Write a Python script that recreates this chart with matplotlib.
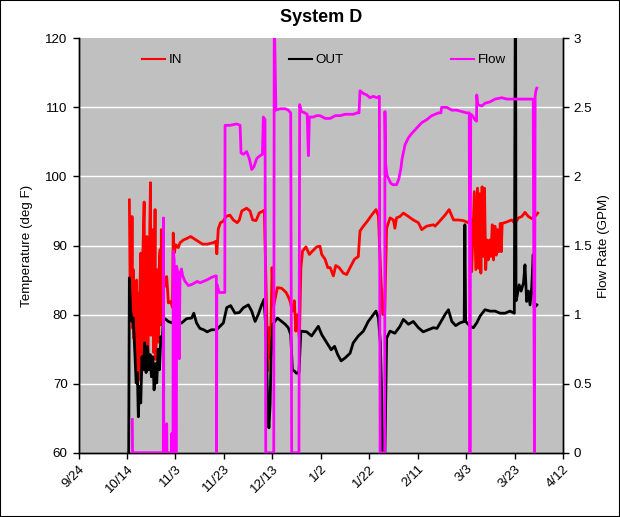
import matplotlib
matplotlib.use("Agg")
import matplotlib.pyplot as plt
from matplotlib.patches import Rectangle
from matplotlib.lines import Line2D
from matplotlib.transforms import ScaledTranslation

plt.rcParams['font.family'] = ['Liberation Sans', 'DejaVu Sans']

# ---------------- data (x = days since 9/24) ----------------
tick_days = [0, 20, 40, 60, 80, 100, 120, 140, 160, 180, 200]
tick_labels = ['9/24', '10/14', '11/3', '11/23', '12/13', '1/2', '1/22', '2/11', '3/3', '3/23', '4/12']
temp_ticks = [60, 70, 80, 90, 100, 110, 120]
flow_ticks = [0, 0.5, 1, 1.5, 2, 2.5, 3]
flow_tick_labels = ['0', '0.5', '1', '1.5', '2', '2.5', '3']

in_day = [21.0, 21.3, 21.5, 21.8, 22.1, 22.4, 22.6, 22.9, 23.2, 23.5, 23.8, 24.0, 24.3, 24.5,
          24.7, 24.9, 25.1, 25.4, 25.7, 26.0, 26.2, 26.5, 26.8, 27.1, 27.4, 27.6, 27.9, 28.2,
          28.5, 28.7, 29.0, 29.3, 29.7, 29.9, 30.1, 30.4, 30.7, 31.0, 31.2, 31.6, 31.8, 32.0,
          32.3, 32.6, 32.9, 33.1, 33.4, 33.7, 34.0, 34.2, 34.4, 34.6, 34.9,
          35.1, 35.7, 36.4, 37.1, 38.1, 38.8, 39.1, 39.5, 40.2, 41.2, 41.9, 43.3, 44.6, 46.3,
          47.6, 49.4, 51.2, 53.1, 55.6, 56.7, 57.1, 57.7, 58.6, 59.7, 60.9, 62.5, 63.9, 65.5,
          66.4, 67.4, 69.4, 70.8, 71.9, 73.3, 74.6, 76.7, 77.7, 78.1, 78.6, 79.2, 79.9, 80.6,
          82.1, 83.9, 85.7, 87.1, 88.4, 89.1, 89.7, 90.4, 91.2, 91.8, 92.5, 93.9, 95.3, 96.6,
          98.3, 99.7, 100.4, 101.8, 102.9, 103.9, 105.2, 106.2, 107.6, 109.3, 110.7, 112.1,
          113.9, 115.5, 116.2, 117.6, 119.4, 121.0, 122.8, 123.8, 124.8, 125.6, 126.4, 127.2,
          128.6, 130.0, 130.6, 131.3, 132.7, 134.1, 136.2, 138.2, 140.3, 141.7, 143.7, 146.5,
          147.2, 149.3, 151.3, 153.0, 154.8, 156.8, 158.9, 160.9, 161.9, 162.3, 163.0, 163.4,
          164.0, 164.7, 165.2, 165.6, 166.1, 166.6, 167.2, 167.6, 168.1, 168.6, 169.1, 169.7, 170.2,
          170.8, 171.3, 171.9, 172.4, 173.0, 173.5, 174.1, 174.5, 174.9, 176.7, 178.8, 180.2,
          181.6, 183.0, 184.3, 185.7, 187.1, 188.4, 189.6]
in_temp = [96.6, 84.0, 87.0, 80.5, 94.2, 78.0, 86.5, 76.5, 80.7, 74.0, 75.9, 85.0, 71.6, 79.5,
           83.1, 70.5, 72.1, 84.5, 88.9, 72.5, 73.9, 88.0, 92.3, 96.3, 74.0, 75.0, 87.5, 91.3,
           72.5, 73.0, 86.0, 89.4, 99.1, 77.0, 80.2, 90.5, 92.3, 74.5, 75.9, 95.2, 73.5, 74.5,
           84.0, 86.5, 76.0, 77.4, 88.0, 89.4, 78.5, 92.3, 82.0, 79.7, 86.0,
           85.1, 84.1, 85.5, 81.7, 81.9, 81.0, 91.8, 88.9, 90.1, 89.7, 90.4, 90.8, 91.0, 91.3,
           91.0, 90.6, 90.2, 90.2, 90.4, 90.6, 88.8, 92.4, 93.3, 93.5, 94.2, 94.4, 93.7, 93.3,
           93.7, 95.0, 95.4, 95.0, 93.7, 93.6, 94.7, 95.1, 80.0, 71.9, 78.1, 73.7, 86.8, 81.3,
           83.9, 83.8, 83.2, 82.2, 80.5, 82.0, 77.6, 80.0, 76.4, 86.8, 89.2, 89.8, 88.7, 89.2,
           89.8, 89.9, 88.7, 88.0, 86.8, 86.8, 85.6, 87.1, 86.8, 86.0, 85.8, 86.8,
           88.0, 88.4, 92.1, 92.8, 93.6, 94.4, 95.2, 94.3, 85.5, 80.0, 80.5, 92.5,
           94.0, 93.7, 92.5, 94.0, 94.2, 94.7, 94.2, 93.7, 93.3, 92.3, 92.8, 93.0,
           92.8, 93.6, 94.4, 95.2, 93.7, 93.7, 93.6, 93.3, 93.9, 86.2, 93.7, 97.8,
           86.5, 98.3, 86.7, 97.5, 86.0, 98.5, 88.4, 98.3, 86.5, 90.8, 87.9, 90.8, 88.4,
           93.0, 87.9, 92.8, 88.6, 92.3, 89.1, 93.2, 89.1, 93.2, 93.4, 93.7, 93.2,
           94.0, 94.2, 94.8, 94.2, 93.9, 94.2, 94.7]

out_day = [20.7, 21.0, 21.5, 22.1, 22.6, 23.2, 23.8, 24.3, 24.7, 25.1, 25.7, 26.2, 26.8, 27.3,
           27.9, 28.5, 29.0, 29.6, 30.1, 30.7, 31.2, 31.8, 32.3, 32.9, 33.4, 34.0, 34.5, 35.0,
           35.7, 37.1, 38.5, 39.8, 41.2, 42.6, 44.6, 46.7, 47.6, 48.7, 50.1, 51.7, 53.1, 54.9,
           57.0, 58.4, 59.8, 61.2, 62.8, 64.6, 66.4, 68.1, 70.1, 71.5, 72.9, 74.2, 75.6, 76.6,
           77.4, 77.8, 78.2, 78.6, 79.1, 79.5, 80.2, 82.1, 83.9, 85.3, 86.6, 87.6, 88.3, 89.2,
           90.0, 91.0, 91.8, 94.2, 96.2, 97.6, 99.0, 100.4, 102.5, 104.3, 105.7, 107.0, 108.4,
           110.0, 112.1, 113.4, 115.5, 117.6, 119.6, 121.7, 122.8, 123.8, 124.6, 125.3, 125.6,
           126.4, 127.2, 128.6, 130.6, 132.7, 134.1, 136.2, 138.2, 140.3, 142.3, 144.4, 146.5,
           148.0, 149.3, 151.3, 152.7, 154.1, 155.7, 157.5, 159.2, 159.5, 159.8, 161.7, 163.0,
           164.4, 165.8, 167.8, 169.9, 172.0, 174.0, 176.1, 178.1, 179.9, 180.4, 180.6, 180.9,
           181.9, 182.7, 183.7, 184.3, 185.0, 185.7, 186.4, 187.1, 187.7, 188.1, 189.2]
out_temp = [58.0, 85.3, 80.7, 79.0, 79.5, 75.0, 70.1, 71.6, 65.2, 69.6, 67.2, 73.9, 72.0, 75.9,
            71.6, 75.4, 72.0, 74.2, 71.0, 73.9, 69.1, 72.9, 70.1, 75.0, 72.0, 76.8, 75.9, 79.2,
            79.4, 79.0, 78.8, 79.2, 78.6, 78.8, 79.4, 79.5, 80.2, 78.8, 78.0, 77.8, 77.5, 77.8,
            77.8, 78.3, 78.8, 81.0, 81.3, 80.2, 80.3, 81.0, 81.4, 80.5, 79.0, 80.0, 81.4, 82.2,
            77.6, 71.3, 66.1, 63.6, 67.0, 73.7, 78.6, 79.5, 79.0, 78.6, 78.1, 77.1, 72.0, 71.8,
            71.5, 71.6, 77.6, 77.5, 76.9, 77.6, 78.3, 77.1, 75.9, 74.9, 75.4, 74.2, 73.3,
            73.7, 74.4, 75.9, 76.9, 77.6, 79.0, 80.0, 80.5, 79.5, 76.0, 66.2, 58.0,
            58.0, 76.6, 77.6, 77.3, 78.3, 79.3, 78.6, 79.0, 78.1, 77.5, 77.8, 78.1,
            78.0, 78.8, 80.0, 80.7, 79.0, 78.4, 78.8, 79.0, 93.0, 79.0, 78.3, 78.1,
            78.8, 79.8, 80.7, 80.5, 80.5, 80.2, 80.2, 80.5, 80.2, 135.0, 82.0, 82.4,
            84.3, 83.4, 84.6, 87.2, 81.9, 83.4, 81.4, 84.0, 88.7, 81.0, 81.4]

flow_day = [22.2, 22.3, 35.0, 35.1, 35.2, 36.3, 36.4, 36.5, 38.4, 38.5, 38.6, 39.0, 39.1, 39.5,
            39.7, 39.8, 40.4, 40.5, 41.0, 41.6, 41.9, 42.5, 43.0, 44.0, 45.4, 47.0, 49.0, 50.2,
            52.9, 55.0, 56.6, 56.9, 57.0, 57.1, 58.1, 59.5, 60.4, 60.5, 62.5, 65.3, 66.7, 67.1,
            68.1, 69.4, 70.5, 71.5, 72.4, 73.6, 74.9, 75.9, 76.3, 77.0, 77.3, 80.6, 80.8, 81.5,
            83.2, 85.3, 86.6, 87.6, 88.0, 91.0, 91.3, 92.0, 93.4, 94.4, 94.9, 95.3, 96.9, 98.3,
            99.7, 101.8, 103.9, 106.0, 108.0, 110.1, 112.1, 113.5, 114.9, 115.8, 116.2, 117.6,
            119.0, 120.3, 121.7, 123.1, 124.2, 124.5, 126.4, 126.5, 126.8, 127.3, 128.1, 128.9,
            129.9, 131.3, 132.2, 133.1, 133.6, 134.8, 136.2, 137.5, 139.6, 141.7, 143.7, 145.8,
            147.2, 148.6, 149.6, 149.9, 152.0, 154.1, 156.1, 158.2, 160.2, 161.3, 161.6, 161.9,
            162.6, 163.7, 164.3, 164.4, 164.8, 166.5, 167.8, 169.9, 172.0, 174.7, 176.8, 178.8,
            181.6, 184.3, 187.7, 188.2, 188.5, 188.8, 189.2]
flow_gpm = [0.24, 0.0, 0.0, 1.70, 0.0, 0.0, 0.21, 0.0, 0.0, 0.14, 0.0, 0.0, 1.46, 1.40,
            0.70, 0.0, 0.0, 1.35, 1.30, 0.68, 1.30, 1.33, 1.28, 1.24, 1.21, 1.22, 1.24, 1.23,
            1.25, 1.27, 1.28, 1.28, 0.0, 1.22, 1.16, 1.16, 1.16, 2.37, 2.37, 2.38, 2.37, 2.17,
            2.16, 2.18, 2.13, 2.05, 2.07, 2.13, 2.15, 2.16, 2.43, 2.41, 0.0, 0.0, 3.2, 2.48,
            2.49, 2.49, 2.48, 2.46, 0.0, 0.0, 2.52, 2.47, 2.46, 2.45, 2.15, 2.43, 2.43, 2.44,
            2.44, 2.42, 2.42, 2.44, 2.44, 2.45, 2.45, 2.45, 2.46, 2.46, 2.62, 2.60,
            2.59, 2.57, 2.58, 2.57, 2.58, 0.0, 0.0, 2.47, 2.09, 2.01, 1.98, 1.95,
            1.94, 1.94, 1.98, 2.06, 2.13, 2.23, 2.28, 2.31, 2.35, 2.39, 2.41, 2.44,
            2.45, 2.46, 2.46, 2.50, 2.50, 2.48, 2.48, 2.47, 2.46, 2.46, 0.0, 2.45,
            2.44, 2.41, 2.40, 2.59, 2.52, 2.51, 2.53, 2.54, 2.56, 2.57, 2.56, 2.56,
            2.56, 2.56, 2.56, 0.0, 2.58, 2.62, 2.64]

# ---------------- figure ----------------
W, H = 620, 517
fig = plt.figure(figsize=(W / 100, H / 100), dpi=100, facecolor='white')
left, right, top, bottom = 78.5, 563.0, 38.3, 452.7
ax = fig.add_axes([left / W, 1 - bottom / H, (right - left) / W, (bottom - top) / H])
ax.set_facecolor('#C0C0C0')

LW = 2.0
ax.plot(in_day, in_temp, color='#FF0000', lw=LW, label='IN', zorder=3)
ax.plot(out_day, out_temp, color='#000000', lw=LW, label='OUT', zorder=3)
ax.set_xlim(0, 200)
ax.set_ylim(60, 120)
ax.set_xticks(tick_days)
ax.set_xticklabels(tick_labels, rotation=45, ha='right', va='top', rotation_mode='anchor')
shift = ScaledTranslation(-0.04, -0.005, fig.dpi_scale_trans)
for lbl in ax.get_xticklabels():
    lbl.set_transform(lbl.get_transform() + shift)
ax.set_yticks(temp_ticks)
ax.yaxis.grid(True, color='white', lw=1.0)
glines = ax.get_ygridlines()
glines[0].set_visible(False)
glines[-1].set_visible(False)
ax.set_axisbelow(True)

ax2 = ax.twinx()
ax2.plot(flow_day, flow_gpm, color='#FF00FF', lw=LW, label='Flow', zorder=3)
ax2.set_ylim(0, 3)
ax2.set_yticks(flow_ticks)
ax2.set_yticklabels(flow_tick_labels)
ax2.patch.set_visible(False)

fs = 9.6
for a in (ax, ax2):
    a.spines['top'].set_visible(False)
    for s in ('left', 'right', 'bottom'):
        a.spines[s].set_color('black')
        a.spines[s].set_linewidth(1.0)
    a.tick_params(direction='out', length=4.3, width=1.0, labelsize=fs, colors='black')
ax.tick_params(axis='x', pad=3)

fig.text(27 / W, 1 - 245.5 / H, 'Temperature (deg F)', rotation=90, ha='center', va='center',
         fontsize=fs)
fig.text(604 / W, 1 - 246 / H, 'Flow Rate (GPM)', rotation=90, ha='center', va='center',
         fontsize=fs)
fig.text(320.75 / W, 1 - 18 / H, 'System D', ha='center', va='center', fontsize=13,
         fontweight='bold')

handles = [Line2D([], [], color='#FF0000', lw=1.5), Line2D([], [], color='#000000', lw=1.5),
           Line2D([], [], color='#FF00FF', lw=1.5)]
leg = ax2.legend(handles, ['IN', 'OUT', 'Flow'], ncol=3, frameon=False, fontsize=fs,
                 loc='center left', bbox_to_anchor=((141.5 - left) / (right - left),
                                                    (bottom - 60) / (bottom - top)),
                 borderaxespad=0, borderpad=0, handlelength=1.78, handletextpad=0.25,
                 columnspacing=8.0)

fig.patches.append(Rectangle((0, 0), 1, 1, transform=fig.transFigure, fill=False,
                             edgecolor='black', lw=1.5, zorder=10))

fig.savefig('out.png', dpi=100, facecolor='white')
